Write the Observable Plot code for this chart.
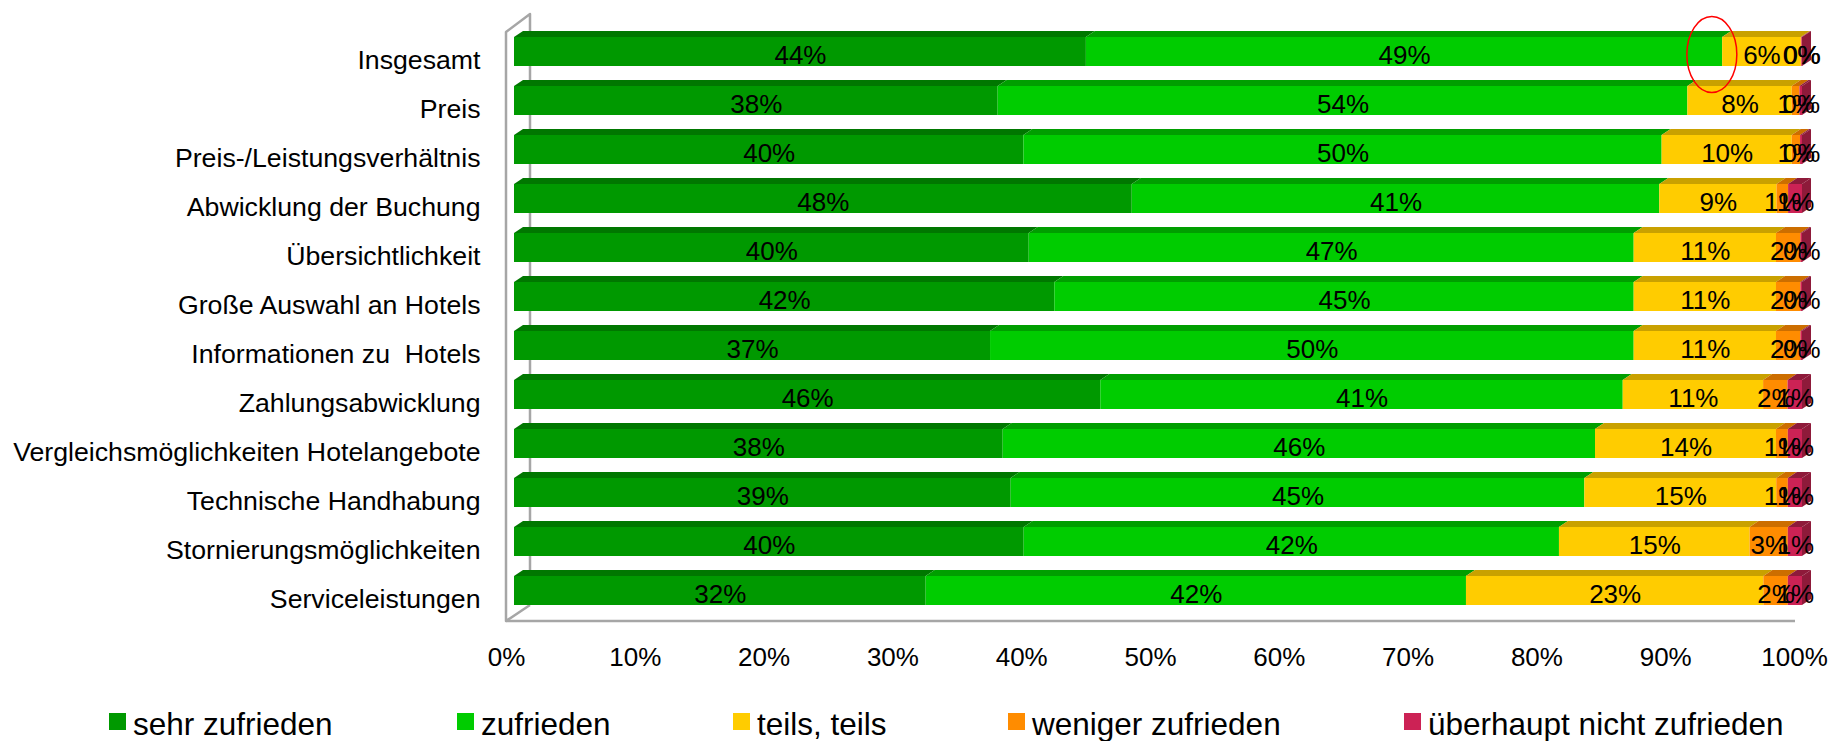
<!DOCTYPE html>
<html><head><meta charset="utf-8">
<script src="https://cdn.jsdelivr.net/npm/d3@7"></script>
<script src="https://cdn.jsdelivr.net/npm/@observablehq/plot@0.6"></script>
<style>
body{margin:0;background:#fff;font-family:"Liberation Sans",Arial,sans-serif;}
#chart svg text{white-space:pre;}
#legend{position:relative;width:1838px;height:46px;}
.item{position:absolute;top:0;height:46px;}
.sw{position:absolute;left:0;top:18px;width:17px;height:17px;}
.lb{position:absolute;left:24px;top:14px;font-size:31.5px;line-height:31px;white-space:nowrap;color:#000;}
</style></head><body>
<div id="chart"></div><div id="legend"></div>
<script>
const categories = ["Insgesamt","Preis","Preis-/Leistungsverhältnis","Abwicklung der Buchung","Übersichtlichkeit","Große Auswahl an Hotels","Informationen zu  Hotels","Zahlungsabwicklung","Vergleichsmöglichkeiten Hotelangebote","Technische Handhabung","Stornierungsmöglichkeiten","Serviceleistungen"];
const seriesNames = ["sehr zufrieden","zufrieden","teils, teils","weniger zufrieden","überhaupt nicht zufrieden"];
const sehrZufrieden    = [44.4, 37.55, 39.55, 47.96, 39.96, 41.95, 36.96, 45.52, 37.94, 38.56, 39.57, 31.96];
const zufrieden        = [49.4, 53.55, 49.55, 40.96, 46.97, 44.98, 49.97, 40.56, 45.99, 44.54, 41.56, 41.95];
const teilsTeils       = [6.1, 8.1, 10.1, 9.1, 11.05, 11.05, 11.05, 10.9, 14.05, 14.9, 14.8, 23.09];
const wenigerZufrieden = [0.05, 0.6, 0.65, 0.9, 1.9, 1.9, 1.9, 1.9, 0.92, 0.9, 2.97, 1.9];
const ueberhauptNicht  = [0.05, 0.2, 0.15, 1.08, 0.12, 0.12, 0.12, 1.12, 1.1, 1.1, 1.1, 1.1];
const xTicks = [0,10,20,30,40,50,60,70,80,90,100];
const frontColors = ["#009900","#00CC00","#FFCC00","#FF8C00","#CC2255"];
const topColors   = ["#007700","#009E00","#C9A100","#CC6E00","#8E1A3A"];
const sideColor = "#8E1A3A";
const legendLeft = [109,457,733,1008,1404];
const highlight = {category:"Insgesamt", x:93};

const values = [sehrZufrieden, zufrieden, teilsTeils, wenigerZufrieden, ueberhauptNicht];
const data = [];
seriesNames.forEach((s,j)=>categories.forEach((c,i)=>data.push({category:c, series:s, idx:j, value:values[j][i]})));
const last = seriesNames[seriesNames.length-1];

const W = 1838, H = 695;
const depthX = 9, depthY = -6;
const st = {x:"value", y:"category", z:"series", order: seriesNames};

const plot = Plot.plot({
  width: W, height: H,
  marginLeft: 514, marginRight: 36, marginTop: 14.64, marginBottom: H - 627.3,
  style: {fontFamily: '"Liberation Sans", Arial, sans-serif', fontSize: "26px", color: "#000", background: "#fff"},
  x: {domain: [0,100]},
  y: {domain: categories, paddingInner: 0.4125, paddingOuter: 0.4125, align: 0.5},
  color: {type: "identity"},
  marks: [
    Plot.barX(data, Plot.stackX({...st, fill: d => topColors[d.idx]})),
    Plot.barX(data, Plot.stackX({...st, fill: d => d.series === last ? sideColor : "none"})),
    Plot.barX(data, Plot.stackX({...st, fill: d => frontColors[d.idx]})),
    Plot.text(data, Plot.stackX({...st, text: d => Math.round(d.value) + "%", dy: 4, fill: "#000", fontSize: 26})),
    Plot.axisX({ticks: xTicks, tickFormat: d => d + "%", tickSize: 0, tickPadding: 20, dx: -8, label: null, fontSize: 26}),
    Plot.axisY({tickSize: 0, tickPadding: 34, dy: 8, label: null, fontSize: 26.7})
  ]
});

const root = d3.select(plot);
const xs = plot.scale("x"), ys = plot.scale("y");
const bw = ys.bandwidth;
const barGroups = root.selectAll('g[aria-label="bar"]').nodes();
const topG = barGroups[0], sideG = barGroups[1];

function rectInfo(n){ return {x:+n.getAttribute("x"), y:+n.getAttribute("y"), w:+n.getAttribute("width"), h:+n.getAttribute("height"), fill:n.getAttribute("fill")}; }

// top faces -> parallelograms
{
  const g = d3.select(topG);
  const rects = g.selectAll("rect").nodes().map(rectInfo);
  g.selectAll("rect").remove();
  rects.forEach(r => g.append("path").attr("fill", r.fill)
    .attr("d", `M${r.x},${r.y}L${r.x+r.w},${r.y}L${r.x+r.w+depthX},${r.y+depthY}L${r.x+depthX},${r.y+depthY}Z`));
}
// side faces at the right end of each bar
{
  const g = d3.select(sideG);
  const rects = g.selectAll("rect").nodes().map(rectInfo).filter(r => r.fill && r.fill !== "none");
  g.selectAll("rect").remove();
  rects.forEach(r => { const x2 = r.x + r.w; g.append("path").attr("fill", r.fill)
    .attr("d", `M${x2},${r.y}L${x2+depthX},${r.y+depthY}L${x2+depthX},${r.y+r.h+depthY}L${x2},${r.y+r.h}Z`); });
}

// walls / floor derived from scales
const x0 = xs.apply(0), x100 = xs.apply(100);
const yFirst = ys.apply(categories[0]), yLast = ys.apply(categories[categories.length-1]) + bw;
const fx = x0 - 8, bx = x0 + 16, floorY = yLast + 16;
const wall = root.insert("g", "g").attr("aria-label", "walls").attr("fill", "none").attr("stroke", "#A6A6A6").attr("stroke-width", 2.5).attr("stroke-linejoin", "round");
wall.append("path").attr("d", `M${bx},${yLast}L${bx},${yFirst-23}L${fx},${yFirst-5}L${fx},${floorY}L${bx},${yLast}`);
wall.append("path").attr("d", `M${fx},${floorY}L${x100-7},${floorY}`);

// annotation ellipse
root.append("ellipse").attr("cx", xs.apply(highlight.x)).attr("cy", ys.apply(highlight.category) + bw/2 + 3)
  .attr("rx", 25).attr("ry", 38).attr("fill", "none").attr("stroke", "#FF0000").attr("stroke-width", 1.5);

document.getElementById("chart").appendChild(plot);

const leg = d3.select("#legend");
seriesNames.forEach((s,i) => {
  const it = leg.append("div").attr("class","item").style("left", legendLeft[i] + "px");
  it.append("div").attr("class","sw").style("background", frontColors[i]);
  it.append("div").attr("class","lb").text(s);
});
</script></body></html>
